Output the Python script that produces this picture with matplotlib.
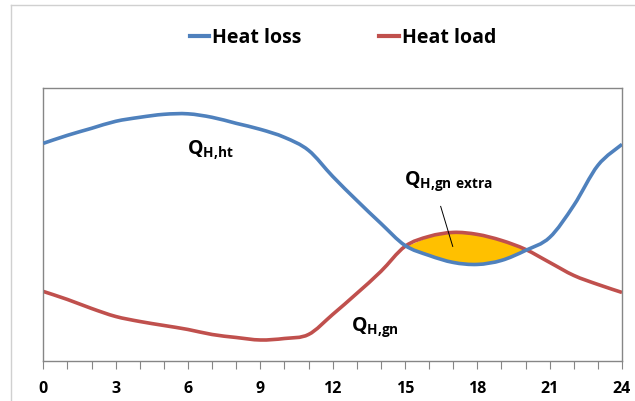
import matplotlib
matplotlib.use("Agg")
import matplotlib.pyplot as plt
from matplotlib.lines import Line2D
from matplotlib.path import Path
from matplotlib.patches import PathPatch
import numpy as np

plt.rcParams['font.family'] = ['Open Sans', 'DejaVu Sans']
plt.rcParams['mathtext.fontset'] = 'custom'
plt.rcParams['mathtext.rm'] = 'Open Sans:bold'
plt.rcParams['mathtext.bf'] = 'Open Sans:bold'
plt.rcParams['mathtext.it'] = 'Open Sans:bold'

hours = list(range(0, 25))
heat_loss = [217, 225, 232, 239, 243, 246, 246.5, 243, 237, 231, 223, 210, 184,
             160, 137, 115, 105, 98, 96, 100, 110, 123, 155, 195, 216]
heat_load = [69, 61, 52, 44, 39, 35, 31, 26, 23, 20.5, 22, 26, 46,
             67, 89, 114, 124, 128, 126, 120, 111, 98, 85, 76, 68]
tick_labels = ['0', '3', '6', '9', '12', '15', '18', '21', '24']
series_names = ['Heat loss', 'Heat load']

blue = '#4F81BD'
red = '#C0504D'
orange = '#FFC000'
grey = '#868686'


def smooth_path(xs, ys):
    """Excel-style smoothed line as cubic Bezier segments through the data points."""
    pts = np.column_stack([xs, ys]).astype(float)
    n = len(pts)
    verts = [pts[0]]
    codes = [Path.MOVETO]
    for i in range(n - 1):
        p0 = pts[i - 1] if i > 0 else pts[i]
        p1 = pts[i]
        p2 = pts[i + 1]
        p3 = pts[i + 2] if i + 2 < n else pts[i + 1]
        c1 = p1 + (p2 - p0) / 6.0
        c2 = p2 - (p3 - p1) / 6.0
        verts += [c1, c2, p2]
        codes += [Path.CURVE4] * 3
    return Path(verts, codes)


fig = plt.figure(figsize=(6.35, 4.01), dpi=100)
ax = fig.add_axes([43.3 / 635, 1 - 360.5 / 401, (622 - 43.3) / 635, (360.5 - 88.3) / 401])

x = np.array(hours, dtype=float)
yl = np.array(heat_loss)
yg = np.array(heat_load)

ax.fill_between(x, yl, yg, where=yg > yl, interpolate=True, color=orange, lw=0, zorder=1)
ax.add_patch(PathPatch(smooth_path(x, yg), fill=False, edgecolor=red, lw=2.6,
                       joinstyle='round', capstyle='butt', zorder=2))
ax.add_patch(PathPatch(smooth_path(x, yl), fill=False, edgecolor=blue, lw=2.6,
                       joinstyle='round', capstyle='butt', zorder=3))

ax.set_xlim(0, 24)
ax.set_ylim(0, 272)
ax.set_yticks([])
ax.set_xticks(hours)
ax.set_xticklabels([str(h) if str(h) in tick_labels else '' for h in hours],
                   fontsize=11.5, fontweight='bold')
ax.tick_params(axis='x', direction='out', length=6, width=0.8, color=grey, pad=9)
for s in ax.spines.values():
    s.set_color(grey)
    s.set_linewidth(1.0)

# annotations
ax.text(5.98, 210, r'$\mathregular{Q_{H{,}ht}}$', fontsize=14, fontweight='bold', ha='left', va='center')
ax.text(12.75, 33, r'$\mathregular{Q_{H{,}gn}}$', fontsize=14, fontweight='bold', ha='left', va='center')
ax.text(14.95, 179, r'$\mathregular{Q_{H{,}gn\ extra}}$', fontsize=14, fontweight='bold', ha='left', va='center')
ax.plot([16.48, 16.98], [154, 114], color='black', lw=0.7, zorder=4)

# legend
handles = [Line2D([], [], color=blue, lw=3), Line2D([], [], color=red, lw=3)]
fig.legend(handles, series_names, loc='center', bbox_to_anchor=(0.54, 0.905), ncol=2,
           frameon=False, prop={'family': 'Open Sans', 'weight': 'bold', 'size': 14},
           handlelength=1.0, handletextpad=0.15, columnspacing=4.0)

# outer chart frame
fig.add_artist(Line2D([10.5 / 635, 10.5 / 635], [0, 1 - 5 / 401], color='#D0D0D0', lw=1.0))
fig.add_artist(Line2D([10.5 / 635, 1], [1 - 5 / 401, 1 - 5 / 401], color='#D0D0D0', lw=1.0))

fig.savefig('out.png', dpi=100)
